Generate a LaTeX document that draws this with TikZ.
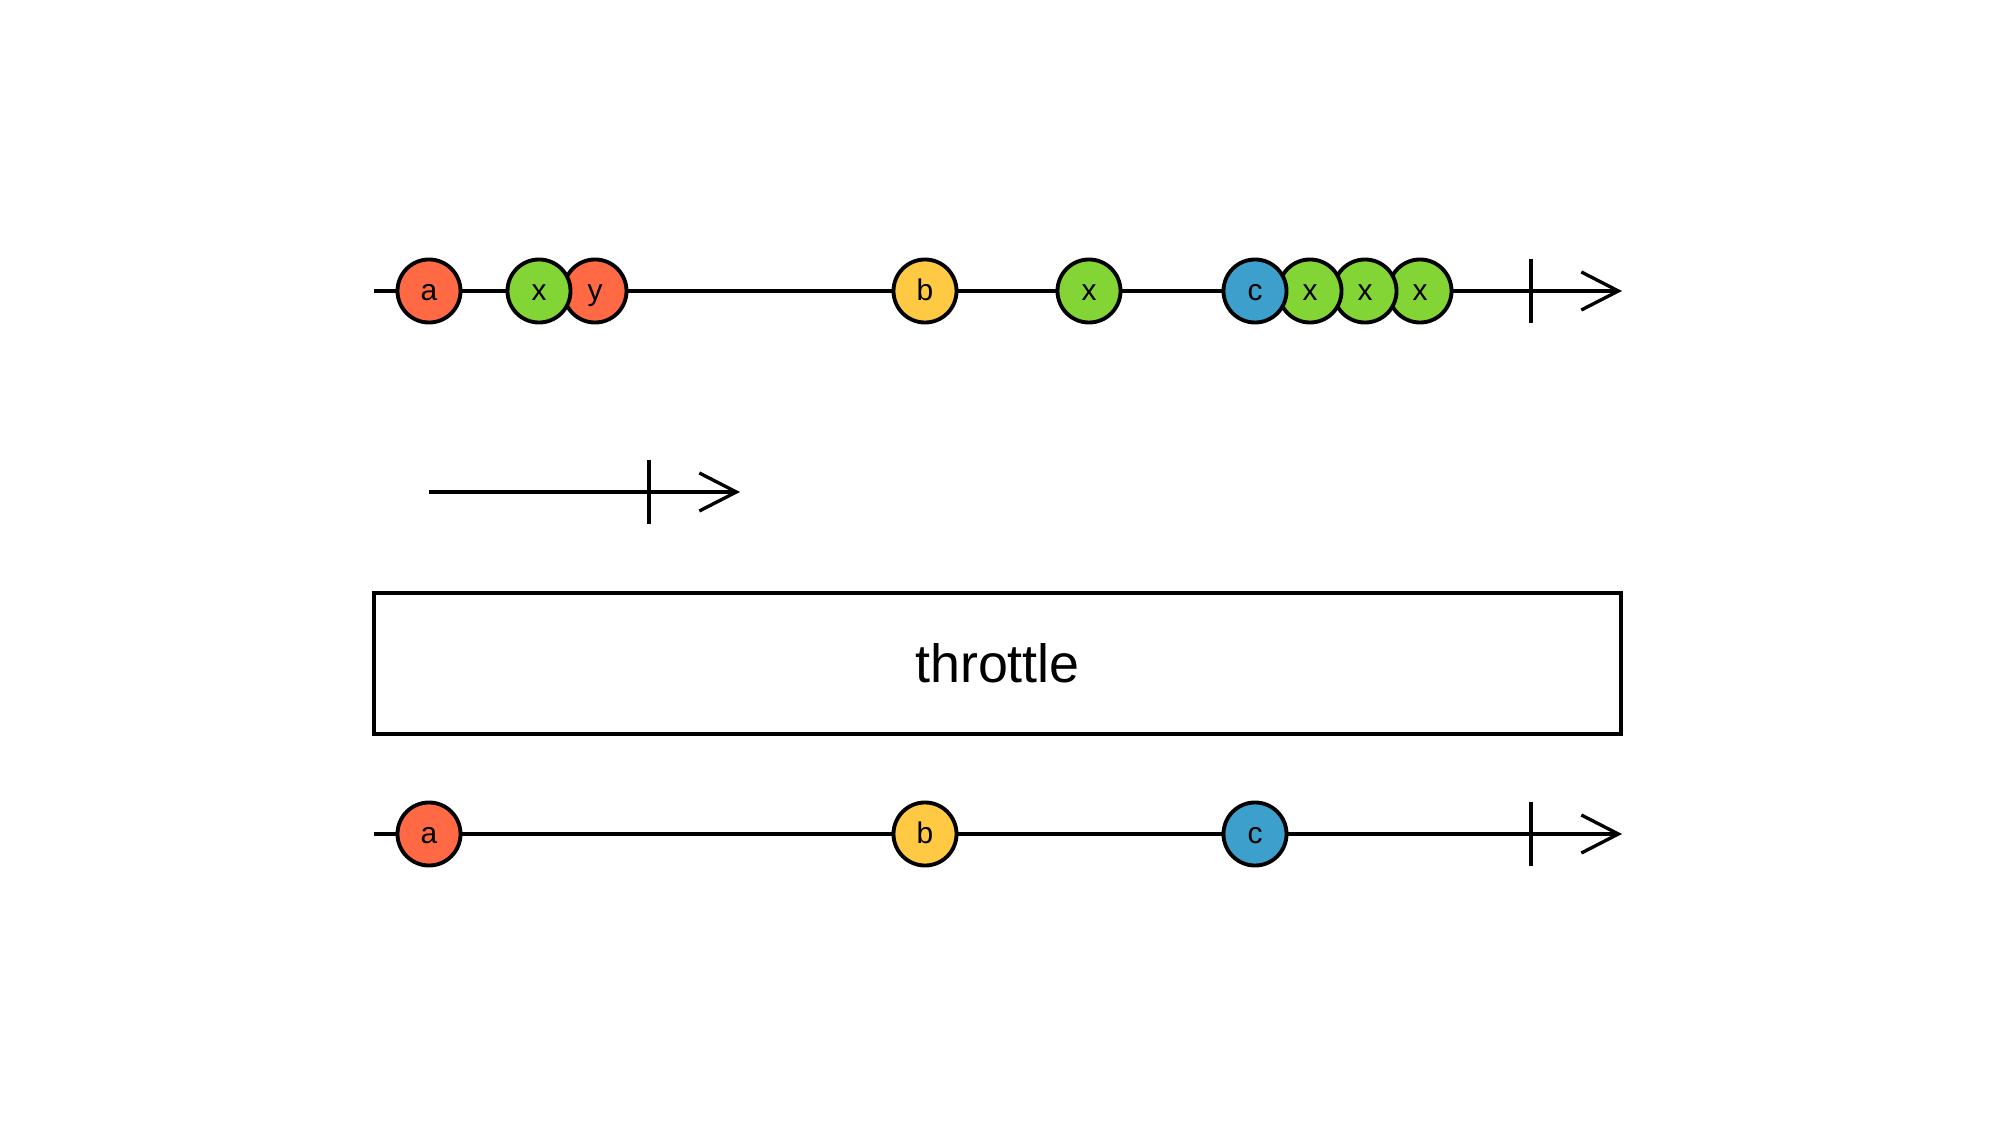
\documentclass[tikz,border=0pt]{standalone}
\usepackage{fontspec}
\setmainfont{Liberation Sans}
\usepackage{xcolor}
\usetikzlibrary{arrows.meta,positioning}

\definecolor{marblered}{HTML}{FF6A45}
\definecolor{marblegreen}{HTML}{82D535}
\definecolor{marbleyellow}{HTML}{FFC944}
\definecolor{marbleblue}{HTML}{3DA0CC}

\begin{document}
\begin{tikzpicture}[x=0.01cm, y=-0.01cm, line width=0.95pt,
    marble/.style={circle, draw, line width=1.1pt, minimum size=0.63cm, inner sep=0pt, text height=0.8em, text depth=0.28em, font=\fontsize{8.5}{10}\selectfont},
    timeline/.style={-{Straight Barb[length=0.37cm, width=0.38cm]}}]
    \useasboundingbox (0,0) rectangle (2000,1125);

    % source stream
    \coordinate (srcstart) at (374,291);
    \coordinate (srcend) at (1622,291);
    \coordinate (srcdone) at (1531,291);
    \draw[timeline] (srcstart) -- (srcend);
    \draw ([yshift=-0.32cm]srcdone) -- ([yshift=0.32cm]srcdone);
    \node[marble, fill=marblered] (srca) at (429,291) {a};
    \node[marble, fill=marblered] (srcy) at (595,291) {y};
    \node[marble, fill=marblegreen] (srcx1) at (539,291) {x};
    \node[marble, fill=marbleyellow] (srcb) at (925,291) {b};
    \node[marble, fill=marblegreen] (srcx2) at (1089,291) {x};
    \node[marble, fill=marblegreen] (srcx5) at (1420,291) {x};
    \node[marble, fill=marblegreen] (srcx4) at (1365,291) {x};
    \node[marble, fill=marblegreen] (srcx3) at (1310,291) {x};
    \node[marble, fill=marbleblue] (srcc) at (1255,291) {c};

    % window duration
    \coordinate (winstart) at (429,492);
    \coordinate (winend) at (740,492);
    \coordinate (windone) at (649,492);
    \draw[timeline] (winstart) -- (winend);
    \draw ([yshift=-0.32cm]windone) -- ([yshift=0.32cm]windone);

    % operator
    \node[draw, line width=1.1pt, minimum width=12.47cm, minimum height=1.41cm, font=\fontsize{15.3}{18}\selectfont] (op) at (997.5,663.5) {throttle};

    % result stream
    \coordinate (resstart) at (374,834);
    \coordinate (resend) at (1622,834);
    \coordinate (resdone) at (1531,834);
    \draw[timeline] (resstart) -- (resend);
    \draw ([yshift=-0.32cm]resdone) -- ([yshift=0.32cm]resdone);
    \node[marble, fill=marblered] (resa) at (429,834) {a};
    \node[marble, fill=marbleyellow] (resb) at (925,834) {b};
    \node[marble, fill=marbleblue] (resc) at (1255,834) {c};
\end{tikzpicture}
\end{document}
